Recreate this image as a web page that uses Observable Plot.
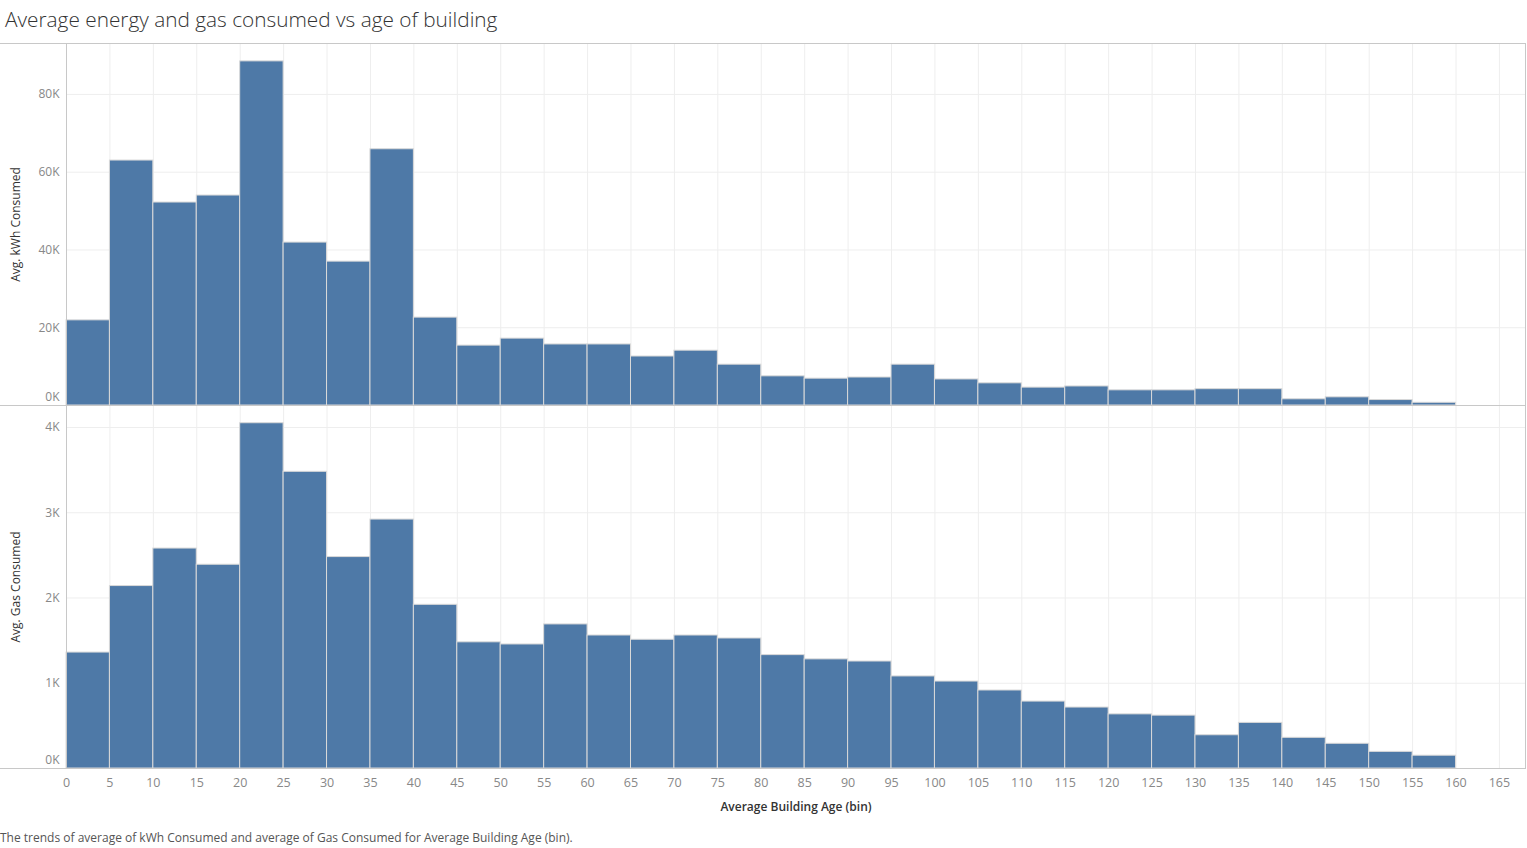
<!DOCTYPE html>
<html><head><meta charset="utf-8">
<script src="https://cdn.jsdelivr.net/npm/d3@7"></script>
<script src="https://cdn.jsdelivr.net/npm/@observablehq/plot@0.6"></script>
<style>
body{margin:0;background:#fff;font-family:"Open Sans",sans-serif;}
#wrap{position:relative;width:1527px;height:848px;overflow:hidden}
.title{position:absolute;left:5px;top:5px;font-size:20.8px;font-weight:300;color:#333;white-space:nowrap}
.caption{position:absolute;left:0;top:829px;font-size:12px;color:#555;white-space:nowrap}
.hl{position:absolute;height:1px;background:#c8c8c8}
.panel{position:absolute;left:0}
g[aria-label="y-axis label"] text{fill:#333;font-size:12px}
g[aria-label="x-axis label"] text{fill:#333;font-weight:600;font-size:12px}
</style>
</head><body>
<div id="wrap">
  <div class="title">Average energy and gas consumed vs age of building</div>
  <div class="panel" id="p1" style="top:43px"></div>
  <div class="panel" id="p2" style="top:405px"></div>
  <div class="hl" style="left:0;top:43px;width:1526px"></div>
  <div class="hl" style="left:0;top:405px;width:1526px"></div>
  <div class="hl" style="left:0;top:768px;width:1526px"></div>
  <div class="caption">The trends of average of kWh Consumed and average of Gas Consumed for Average Building Age (bin).</div>
</div>
<script>
// Bin starts (years), bin width 5
const bins = [0,5,10,15,20,25,30,35,40,45,50,55,60,65,70,75,80,85,90,95,100,105,110,115,120,125,130,135,140,145,150,155];
const binWidth = 5;
// Average kWh consumed per bin
const kwh = [21900,63000,52200,54000,88500,41900,37000,65900,22600,15400,17200,15700,15700,12600,14100,10500,7500,6900,7200,10500,6700,5700,4600,4900,3900,3900,4200,4200,1600,2100,1400,700];
// Average gas consumed per bin
const gas = [1360,2140,2580,2390,4050,3480,2480,2920,1920,1480,1455,1690,1560,1510,1560,1525,1330,1280,1255,1080,1020,915,785,715,635,620,390,535,360,290,195,150];
// Tick values
const xTicks = d3.range(0, 170, 5);
const kwhTicks = [0,20000,40000,60000,80000];
const gasTicks = [0,1000,2000,3000,4000];
const fmtK = d => (d/1000) + "K";

function panel(values, yMax, yTicks, yLabel, height, showX) {
  const data = bins.map((b,i)=>({x1:b, x2:b+binWidth, v:values[i]}));
  const marks = [
    Plot.gridX(xTicks, {stroke:"#eeeeee", strokeOpacity:1}),
    Plot.gridY(yTicks.filter(t=>t>0), {stroke:"#eeeeee", strokeOpacity:1}),
    Plot.rectY(data, {x1:"x1", x2:"x2", y:"v", fill:"#4e79a7", stroke:"#d9d9d9", strokeWidth:1}),
    Plot.ruleX([0], {stroke:"#c8c8c8"}),
    Plot.ruleX([168], {stroke:"#c8c8c8"}),
    Plot.axisY(yTicks.filter(t=>t>0), {tickSize:0, tickPadding:7, fontSize:12, tickFormat:fmtK, label:yLabel, labelAnchor:"center", labelArrow:"none", labelOffset:55}),
    Plot.axisY([0], {tickSize:0, tickPadding:7, fontSize:12, tickFormat:fmtK, dy:-8, label:null})
  ];
  if (showX) marks.push(Plot.axisX(xTicks, {tickSize:0, tickPadding:10, fontSize:12.5, label:"Average Building Age (bin)", labelAnchor:"center", labelArrow:"none", labelOffset:42}));
  return Plot.plot({
    width:1527, height, marginLeft:66, marginRight:2, marginTop:0, marginBottom: showX ? 56 : 0,
    style:{fontFamily:"Open Sans", fontSize:"12px", color:"#888", background:"transparent", overflow:"visible"},
    x:{domain:[0,168], axis: showX ? undefined : null},
    y:{domain:[0,yMax]},
    marks
  });
}
document.getElementById("p1").append(panel(kwh, 93100, kwhTicks, "Avg. kWh Consumed", 362, false));
document.getElementById("p2").append(panel(gas, 4258, gasTicks, "Avg. Gas Consumed", 419, true));
</script>
</body></html>
